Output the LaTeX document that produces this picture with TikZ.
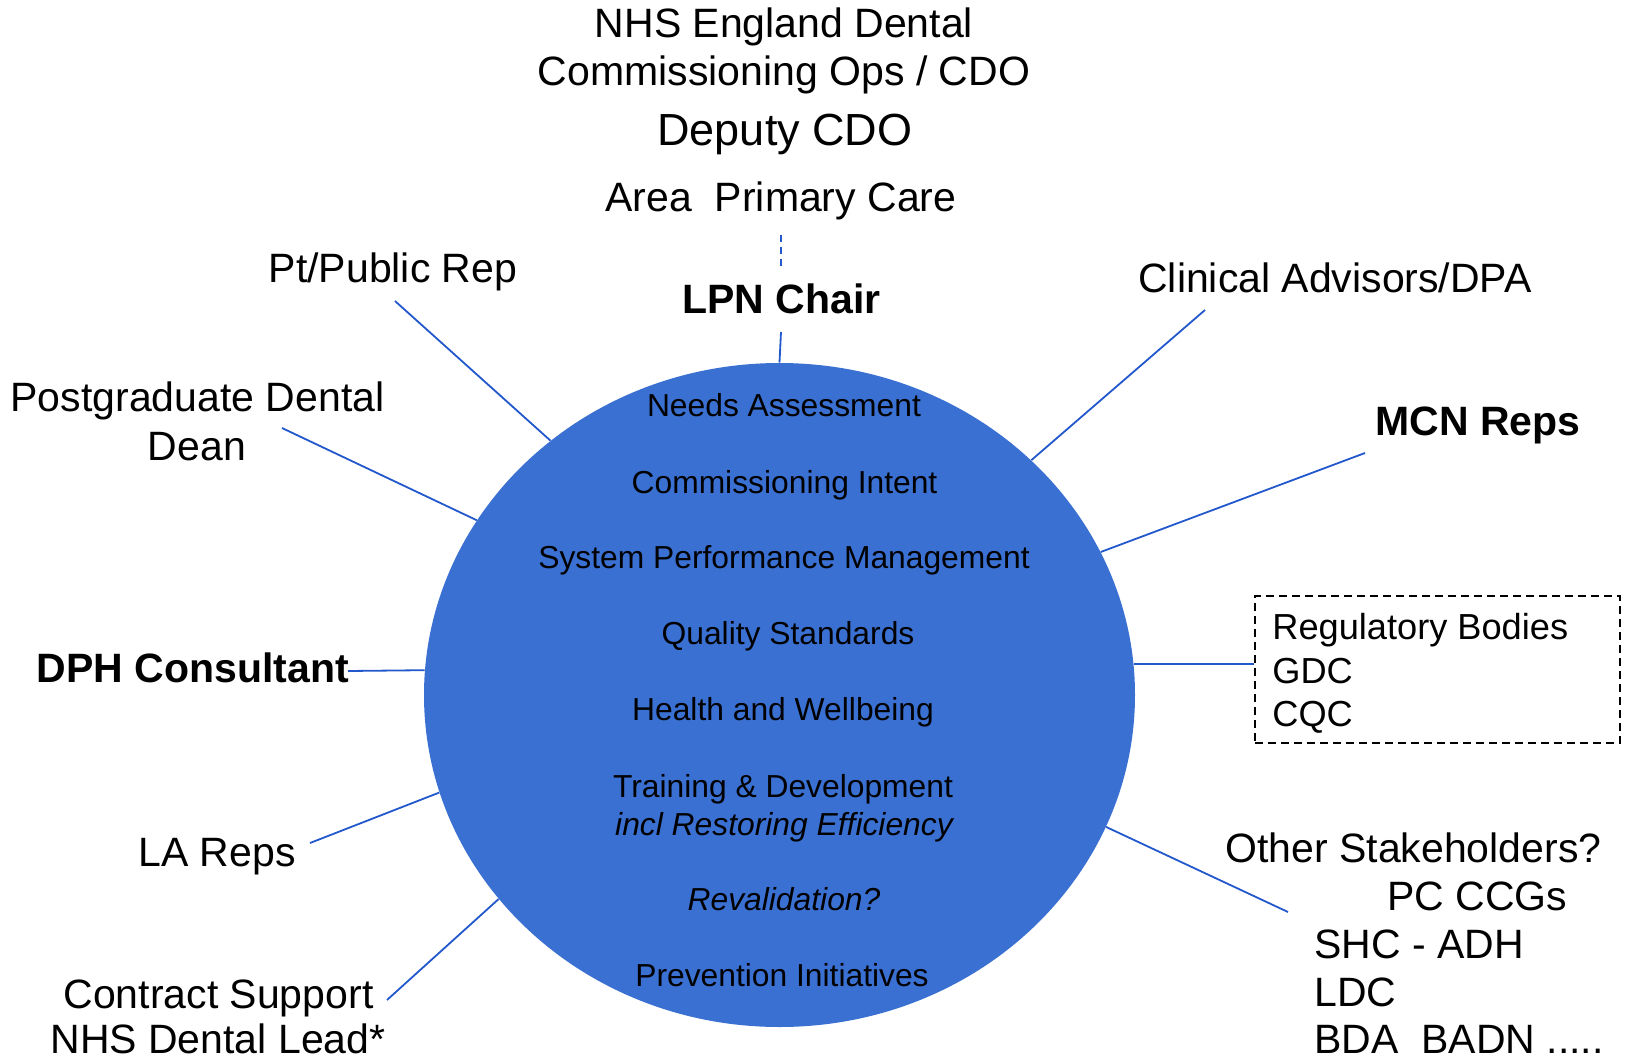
\documentclass[tikz,border=0pt]{standalone}
\usepackage{fontspec}
\setmainfont{Liberation Sans}
\usetikzlibrary{shapes.geometric}
\definecolor{hub}{RGB}{58,112,210}
\definecolor{link}{RGB}{35,88,205}
\begin{document}
\begin{tikzpicture}[x=0.5pt,y=-0.5pt,
  lbl/.style={inner sep=0pt, font=\fontsize{20.5}{24}\selectfont, anchor=base},
  lblb/.style={lbl, font=\fontsize{20.5}{24}\selectfont\bfseries},
  lblw/.style={lbl, anchor=base west},
  reglbl/.style={inner sep=0pt, font=\fontsize{18.1}{22}\selectfont, anchor=base west},
  inlbl/.style={inner sep=0pt, font=\fontsize{15.9}{19}\selectfont, anchor=base},
  inlblit/.style={inlbl, font=\fontsize{15.9}{19}\selectfont\itshape},
  conn/.style={draw=link, line width=0.9pt},
]
\useasboundingbox (0,0) rectangle (1630,1061);
\fill[white] (0,0) rectangle (1630,1061);

% central hub
\node[ellipse, fill=hub, inner sep=0pt, minimum width=355.5pt, minimum height=332pt] (hub) at (779.5,695) {};

% inner texts
\node[inlbl] (t1) at (784,416) {Needs Assessment};
\node[inlbl] (t2) at (784.5,493) {Commissioning Intent};
\node[inlbl] (t3) at (784,568) {System Performance Management};
\node[inlbl] (t4) at (788,644) {Quality Standards};
\node[inlbl] (t5) at (783,720) {Health and Wellbeing};
\node[inlbl] (t6) at (783,797) {Training \& Development};
\node[inlblit] (t7) at (784,835) {incl Restoring Efficiency};
\node[inlblit] (t8) at (784,910) {Revalidation?};
\node[inlbl] (t9) at (782,986) {Prevention Initiatives};

% top
\node[lbl] (nhs1) at (784,37) {NHS England Dental};
\node[lbl] (nhs2) at (784,85) {Commissioning Ops / CDO};
\node[lbl, font=\fontsize{22.5}{27}\selectfont] (dep) at (785,145) {Deputy CDO};
\node[lbl] (area) at (781,211) {Area\ \ Primary Care};
\node[lblb] (lpn) at (781.5,313.5) {LPN Chair};
\coordinate (dtop) at (781,235);
\coordinate (dbot) at (781,268);
\draw[conn, dash pattern=on 3.5pt off 2.5pt] (dtop) -- (dbot);
\coordinate (lpnfoot) at (781,332);
\draw[conn] (lpnfoot) -- (hub.90);

% left side
\node[lbl] (pt) at (393,282) {Pt/Public Rep};
\coordinate (ptend) at (395,301);
\draw[conn] (ptend) -- (hub.132.7);

\node[lbl] (pg1) at (197.5,411) {Postgraduate Dental};
\node[lbl] (pg2) at (197,460) {Dean};
\coordinate (pgend) at (282,428);
\draw[conn] (pgend) -- (hub.150.1);

\node[lblb] (dph) at (193,682) {DPH Consultant};
\coordinate (dphend) at (348,671);
\draw[conn] (dphend) -- (hub.176.1);

\node[lbl] (la) at (217,866) {LA Reps};
\coordinate (laend) at (310,843);
\draw[conn] (laend) -- (hub.196.4);

\node[lbl] (cs1) at (218.5,1008) {Contract Support};
\node[lbl] (cs2) at (218,1053) {NHS Dental Lead*};
\coordinate (csend) at (387,1000);
\draw[conn] (csend) -- (hub.216.9);

% right side
\node[lbl] (clin) at (1335,292) {Clinical Advisors/DPA};
\coordinate (clinend) at (1205,310);
\draw[conn] (clinend) -- (hub.43.3);

\node[lblb] (mcn) at (1478,435) {MCN Reps};
\coordinate (mcnend) at (1365,453);
\draw[conn] (mcnend) -- (hub.24.2);

\node[draw=black, line width=0.8pt, dash pattern=on 4pt off 2.5pt, minimum width=182.5pt, minimum height=73.5pt, inner sep=0pt] (box) at (1437.5,669.5) {};
\node[reglbl] (reg1) at (1272,639) {Regulatory Bodies};
\node[reglbl] (reg2) at (1272,683) {GDC};
\node[reglbl] (reg3) at (1272,726) {CQC};
\draw[conn] (hub.5.5) -- (hub.5.5 -| box.west);

\node[lblw] (os1) at (1225,862) {Other Stakeholders?};
\node[lblw] (os2) at (1387,910) {PC CCGs};
\node[lblw] (os3) at (1314,958) {SHC - ADH};
\node[lblw] (os4) at (1314,1006) {LDC};
\node[lblw] (os5) at (1314,1053) {BDA\ \ BADN .....};
\coordinate (osend) at (1288,912);
\draw[conn] (osend) -- (hub.338.4);
\end{tikzpicture}
\end{document}
